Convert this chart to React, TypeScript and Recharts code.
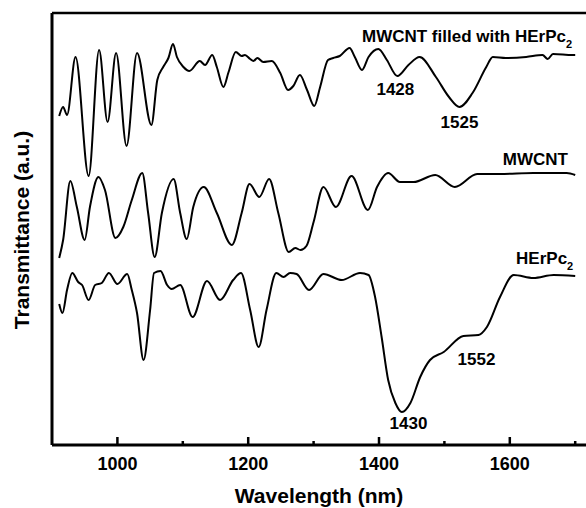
import React from 'react';
import { LineChart, Line, XAxis, YAxis, ReferenceDot, Label } from 'recharts';

// wavelength (nm) / transmittance (a.u.)
const filledWl = [911, 917, 923, 936, 956, 972, 985, 998, 1014, 1030, 1052, 1061, 1070, 1078, 1085, 1091, 1101, 1110, 1126, 1134, 1145, 1152, 1162, 1170, 1181, 1190, 1195, 1203, 1208, 1214, 1223, 1236, 1249, 1261, 1269, 1279, 1290, 1301, 1310, 1322, 1330, 1340, 1355, 1363, 1374, 1384, 1399, 1412, 1428, 1445, 1462, 1487, 1507, 1523, 1543, 1564, 1574, 1594, 1625, 1650, 1658, 1666, 1696, 1700];
const filledT = [329, 338, 330, 388, 269, 395, 323, 392, 299, 392, 320, 365, 378, 387, 401, 388, 378, 374, 384, 380, 390, 378, 358, 373, 393, 389, 390, 386, 384, 387, 383, 384, 372, 355, 359, 370, 355, 339, 358, 385, 387, 389, 397, 388, 375, 388, 396, 385, 369, 380, 388, 368, 348, 338, 352, 378, 388, 387, 388, 390, 386, 391, 390, 390];

const mwcntWl = [911, 917, 928, 938, 950, 958, 971, 981, 997, 1009, 1022, 1038, 1047, 1057, 1068, 1086, 1096, 1106, 1116, 1132, 1152, 1175, 1190, 1202, 1217, 1232, 1246, 1262, 1272, 1280, 1289, 1300, 1315, 1334, 1358, 1383, 1397, 1414, 1432, 1453, 1486, 1516, 1550, 1585, 1636, 1687, 1700];
const mwcntT = [187, 205, 264, 238, 205, 238, 268, 255, 207, 218, 245, 272, 232, 188, 232, 266, 232, 206, 238, 258, 232, 200, 232, 261, 248, 266, 232, 193, 197, 195, 199, 223, 258, 238, 269, 235, 258, 272, 263, 263, 270, 258, 271, 271, 272, 272, 270];

const herpcWl = [911, 916, 923, 931, 940, 946, 956, 966, 976, 987, 1000, 1015, 1022, 1030, 1040, 1050, 1056, 1066, 1076, 1083, 1096, 1115, 1137, 1157, 1177, 1189, 1203, 1216, 1228, 1243, 1254, 1264, 1274, 1293, 1315, 1343, 1371, 1384, 1394, 1404, 1414, 1425, 1435, 1448, 1463, 1478, 1499, 1529, 1552, 1565, 1585, 1606, 1636, 1667, 1700];
const herpcT = [141, 132, 155, 172, 163, 160, 145, 160, 162, 172, 161, 171, 155, 132, 85, 135, 172, 174, 160, 156, 160, 128, 164, 145, 165, 172, 135, 98, 135, 172, 168, 172, 171, 155, 171, 165, 172, 170, 148, 108, 65, 42, 33, 42, 68, 85, 93, 109, 110, 118, 148, 170, 167, 170, 169];

const xTicks = [1000, 1100, 1200, 1300, 1400, 1500, 1600, 1700];

const annotations = [
  { x: 1374, y: 403, text: 'MWCNT filled with HErPc', sub: '2', anchor: 'start' },
  { x: 1425, y: 350, text: '1428', anchor: 'middle' },
  { x: 1523, y: 317, text: '1525', anchor: 'middle' },
  { x: 1689, y: 280, text: 'MWCNT', anchor: 'end' },
  { x: 1697, y: 181, text: 'HErPc', sub: '2', anchor: 'end' },
  { x: 1445, y: 16, text: '1430', anchor: 'middle' },
  { x: 1549, y: 80, text: '1552', anchor: 'middle' },
];

const zip = (wl: number[], t: number[]) => wl.map((w, i) => ({ wl: w, t: t[i] }));
const filled = zip(filledWl, filledT);
const mwcnt = zip(mwcntWl, mwcntT);
const herpc = zip(herpcWl, herpcT);

const FONT = '"Liberation Sans", Arial, Helvetica, sans-serif';

const XTick = (props: any) => {
  const { x, y, payload } = props;
  const major = payload.value % 200 === 0;
  return (
    <g>
      <line x1={x} x2={x} y1={y} y2={y - (major ? 8 : 4)} stroke="#000" strokeWidth={2.5} />
      {major && (
        <text x={x} y={y + 25} textAnchor="middle" fontFamily={FONT} fontWeight="bold" fontSize={18} fill="#000">
          {payload.value}
        </text>
      )}
    </g>
  );
};

const annoLabel = (a: any) => (props: any) => {
  const vb = props.viewBox || {};
  return (
    <text x={vb.x} y={vb.y} textAnchor={a.anchor} fontFamily={FONT} fontWeight="bold" fontSize={17} fill="#000">
      {a.text}
      {a.sub && (
        <tspan fontSize={11} dy={6}>{a.sub}</tspan>
      )}
    </text>
  );
};

export default function App() {
  return (
    <div style={{ position: 'absolute', left: 0, top: 0, width: 586, height: 508, background: '#fff' }}>
      <LineChart width={586} height={508} margin={{ top: 12, right: 0, bottom: 0, left: 0 }}>
        {/* top frame line */}
        <XAxis
          xAxisId="top"
          orientation="top"
          type="number"
          domain={[900, 1716.5]}
          height={1}
          tick={false}
          tickLine={false}
          axisLine={{ stroke: '#000', strokeWidth: 2.5 }}
        />
        <XAxis
          dataKey="wl"
          type="number"
          domain={[900, 1716.5]}
          ticks={xTicks}
          interval={0}
          tick={<XTick />}
          tickLine={false}
          tickSize={0}
          tickMargin={0}
          height={63}
          axisLine={{ stroke: '#000', strokeWidth: 3 }}
          allowDataOverflow
        >
          <Label
            content={(p: any) => {
              const vb = p.viewBox;
              return (
                <text x={vb.x + vb.width / 2} y={vb.y + 58} textAnchor="middle" fontFamily={FONT} fontWeight="bold" fontSize={21} fill="#000">
                  Wavelength (nm)
                </text>
              );
            }}
          />
        </XAxis>
        <YAxis
          type="number"
          domain={[0, 432]}
          width={52}
          tick={false}
          tickLine={false}
          axisLine={{ stroke: '#000', strokeWidth: 3 }}
          allowDataOverflow
        >
          <Label
            content={(p: any) => {
              const vb = p.viewBox;
              const cx = 29;
              const cy = vb.y + vb.height / 2 + 1;
              return (
                <text x={cx} y={cy} transform={`rotate(-90 ${cx} ${cy})`} textAnchor="middle" fontFamily={FONT} fontWeight="bold" fontSize={21} fill="#000">
                  Transmittance (a.u.)
                </text>
              );
            }}
          />
        </YAxis>
        <Line data={filled} dataKey="t" type="monotone" stroke="#000" strokeWidth={2} dot={false} isAnimationActive={false} />
        <Line data={mwcnt} dataKey="t" type="monotone" stroke="#000" strokeWidth={2} dot={false} isAnimationActive={false} />
        <Line data={herpc} dataKey="t" type="monotone" stroke="#000" strokeWidth={2} dot={false} isAnimationActive={false} />
        {annotations.map((a, i) => (
          <ReferenceDot key={i} x={a.x} y={a.y} r={0} fill="none" stroke="none" label={annoLabel(a)} />
        ))}
      </LineChart>
    </div>
  );
}
